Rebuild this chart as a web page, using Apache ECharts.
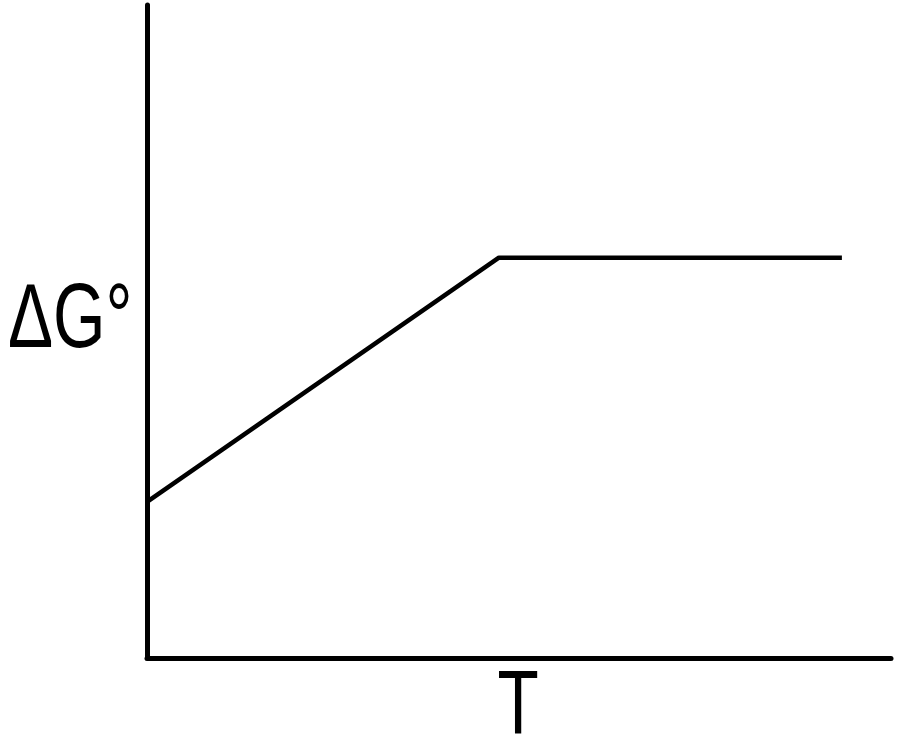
<!DOCTYPE html>
<html>
<head>
<meta charset="utf-8">
<script src="https://cdn.jsdelivr.net/npm/echarts@6/dist/echarts.min.js"></script>
<style>
  html, body { margin: 0; padding: 0; background: #fff; }
  #chart { width: 900px; height: 741px; }
</style>
</head>
<body>
<div id="chart"></div>
<script>
'use strict'

// temperature (arbitrary units) and free energy (arbitrary units)
const temps = [0, 47.3, 93.4]
const deltaG = [23.9, 61.3, 61.3]
const xName = 'T'
const yName = 'ΔG°'

const chart = echarts.init(document.getElementById('chart'))

const axisBase = {
  type: 'value',
  min: 0,
  max: 100,
  axisLine: { show: true, lineStyle: { color: '#000', width: 5 } },
  axisTick: { show: false },
  axisLabel: { show: false },
  splitLine: { show: false }
}

// the original lettering is a bit condensed, so squeeze it horizontally
const nameStyle = {
  fontSize: 90,
  fontFamily: 'Liberation Sans, Arial, sans-serif',
  fill: '#000',
  verticalAlign: 'top'
}

const option = {
  animation: false,
  backgroundColor: '#fff',
  grid: { left: 147, right: 9, top: 5, bottom: 83, containLabel: false, outerBoundsMode: 'none' },
  xAxis: axisBase,
  yAxis: axisBase,
  graphic: [
    {
      type: 'text',
      x: 518,
      y: 664,
      scaleX: 0.75,
      style: Object.assign({ text: xName, align: 'center' }, nameStyle)
    },
    {
      type: 'text',
      x: 8,
      y: 277,
      scaleX: 0.75,
      style: Object.assign({ text: yName, align: 'left' }, nameStyle)
    }
  ],
  series: [
    {
      type: 'line',
      data: temps.map((t, i) => [t, deltaG[i]]),
      showSymbol: false,
      lineStyle: { color: '#000', width: 4.5 }
    }
  ]
}
chart.setOption(option)
</script>
</body>
</html>
